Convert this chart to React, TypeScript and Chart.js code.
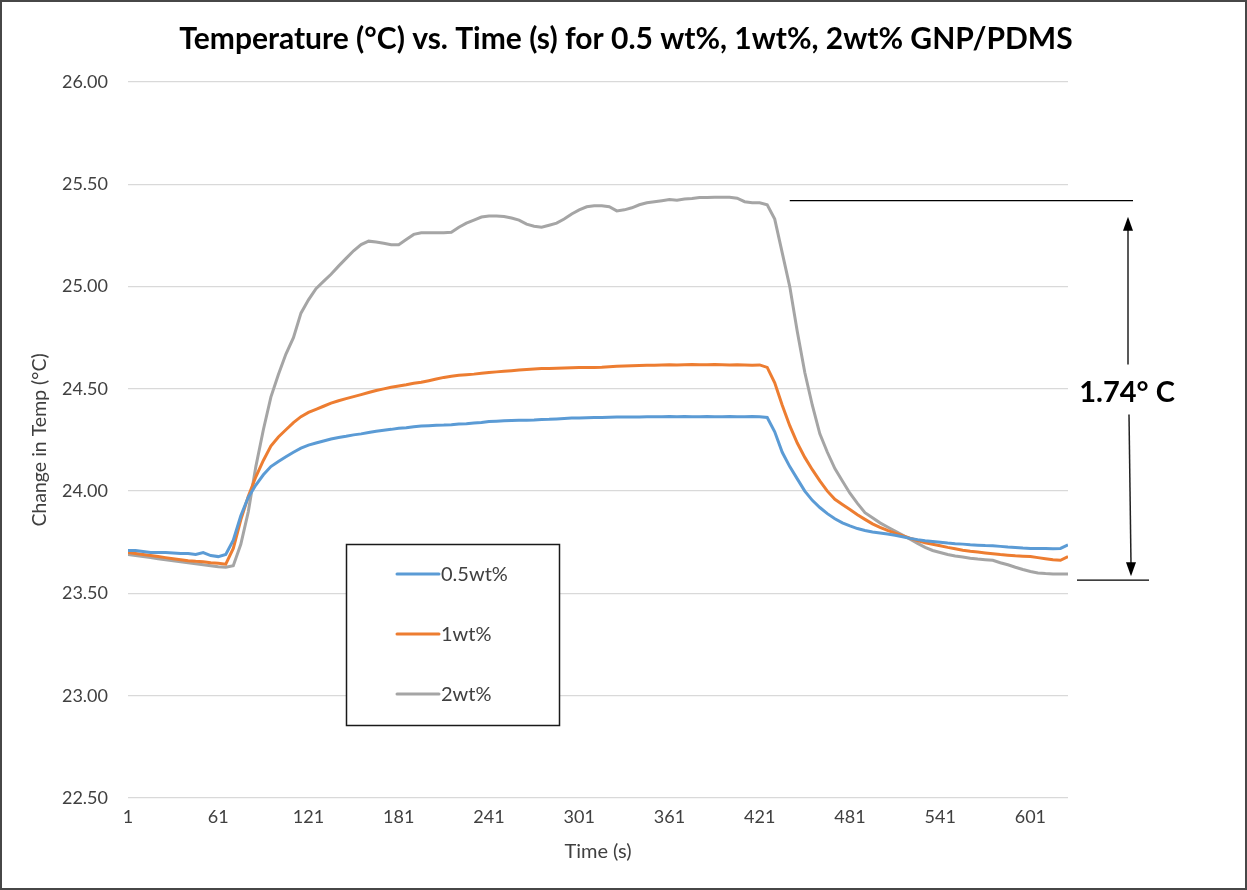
import React, { useEffect, useRef } from "react";
import { Chart, registerables } from "chart.js";

Chart.register(...registerables);

// ---------- DATA ----------
const TITLE = "Temperature (°C) vs. Time (s) for 0.5 wt%, 1wt%, 2wt% GNP/PDMS";
const X_TITLE = "Time (s)";
const Y_TITLE = "Change in Temp (°C)";

const TIMES = [
  1, 6, 11, 16, 21, 26, 31, 36, 41, 46,
  51, 56, 61, 66, 71, 76, 81, 86, 91, 96,
  101, 106, 111, 116, 121, 126, 131, 136, 141, 146,
  151, 156, 161, 166, 171, 176, 181, 186, 191, 196,
  201, 206, 211, 216, 221, 226, 231, 236, 241, 246,
  251, 256, 261, 266, 271, 276, 281, 286, 291, 296,
  301, 306, 311, 316, 321, 326, 331, 336, 341, 346,
  351, 356, 361, 366, 371, 376, 381, 386, 391, 396,
  401, 406, 411, 416, 421, 426, 431, 436, 441, 446,
  451, 456, 461, 466, 471, 476, 481, 486, 491, 496,
  501, 506, 511, 516, 521, 526, 531, 536, 541, 546,
  551, 556, 561, 566, 571, 576, 581, 586, 591, 596,
  601, 606, 611, 616, 621, 626,
];

const TEMP_05WT = [
  23.71, 23.71, 23.705, 23.70, 23.70, 23.70, 23.698, 23.695, 23.695, 23.69,
  23.70, 23.685, 23.68, 23.69, 23.76, 23.88, 23.97, 24.03, 24.08, 24.12,
  24.145, 24.168, 24.19, 24.21, 24.225, 24.235, 24.245, 24.255, 24.262, 24.268,
  24.275, 24.28, 24.287, 24.293, 24.298, 24.302, 24.307, 24.31, 24.315, 24.318,
  24.32, 24.322, 24.323, 24.325, 24.328, 24.33, 24.333, 24.336, 24.34, 24.342,
  24.344, 24.345, 24.346, 24.347, 24.348, 24.35, 24.351, 24.353, 24.355, 24.357,
  24.358, 24.359, 24.36, 24.36, 24.361, 24.362, 24.362, 24.363, 24.363, 24.364,
  24.364, 24.364, 24.365, 24.364, 24.365, 24.364, 24.364, 24.365, 24.364, 24.364,
  24.365, 24.364, 24.364, 24.365, 24.364, 24.36, 24.29, 24.19, 24.12, 24.06,
  24.00, 23.955, 23.92, 23.89, 23.865, 23.845, 23.83, 23.817, 23.808, 23.80,
  23.795, 23.79, 23.784, 23.777, 23.769, 23.763, 23.758, 23.754, 23.75, 23.746,
  23.743, 23.741, 23.738, 23.736, 23.734, 23.733, 23.73, 23.727, 23.725, 23.722,
  23.72, 23.72, 23.72, 23.719, 23.72, 23.737,
];

const TEMP_1WT = [
  23.70, 23.695, 23.69, 23.685, 23.68, 23.675, 23.67, 23.665, 23.66, 23.657,
  23.655, 23.65, 23.647, 23.643, 23.72, 23.86, 23.975, 24.07, 24.15, 24.22,
  24.265, 24.30, 24.335, 24.364, 24.385, 24.40, 24.415, 24.43, 24.442, 24.452,
  24.462, 24.472, 24.482, 24.492, 24.50, 24.508, 24.514, 24.52, 24.527, 24.532,
  24.54, 24.548, 24.556, 24.562, 24.566, 24.569, 24.572, 24.576, 24.58, 24.583,
  24.586, 24.589, 24.592, 24.595, 24.597, 24.599, 24.60, 24.601, 24.602, 24.603,
  24.604, 24.605, 24.605, 24.606, 24.608, 24.61, 24.612, 24.613, 24.614, 24.615,
  24.616, 24.617, 24.618, 24.617, 24.618, 24.619, 24.618, 24.618, 24.619, 24.618,
  24.617, 24.618, 24.617, 24.616, 24.617, 24.605, 24.53, 24.42, 24.32, 24.235,
  24.165, 24.105, 24.05, 24.0, 23.96, 23.935, 23.91, 23.885, 23.862, 23.84,
  23.823, 23.808, 23.795, 23.782, 23.77, 23.759, 23.748, 23.74, 23.733, 23.725,
  23.718, 23.711, 23.706, 23.702, 23.698, 23.694, 23.69, 23.687, 23.684, 23.682,
  23.68, 23.675, 23.67, 23.665, 23.662, 23.68,
];

const TEMP_2WT = [
  23.69, 23.685, 23.68, 23.675, 23.67, 23.665, 23.66, 23.655, 23.65, 23.645,
  23.64, 23.635, 23.63, 23.628, 23.635, 23.74, 23.90, 24.12, 24.30, 24.46,
  24.57, 24.67, 24.75, 24.87, 24.935, 24.99, 25.025, 25.06, 25.10, 25.138,
  25.175, 25.205, 25.222, 25.218, 25.212, 25.205, 25.205, 25.23, 25.255, 25.263,
  25.263, 25.263, 25.263, 25.265, 25.29, 25.31, 25.325, 25.34, 25.345, 25.345,
  25.342, 25.335, 25.325, 25.305, 25.295, 25.29, 25.30, 25.31, 25.33, 25.355,
  25.375, 25.39, 25.395, 25.395, 25.39, 25.37, 25.375, 25.385, 25.40, 25.41,
  25.415, 25.42, 25.425, 25.422, 25.428, 25.43, 25.435, 25.435, 25.437, 25.437,
  25.437, 25.432, 25.415, 25.41, 25.41, 25.40, 25.33, 25.165, 25.0, 24.78,
  24.58, 24.42, 24.28, 24.19, 24.11, 24.05, 23.99, 23.94, 23.895, 23.87,
  23.845, 23.825, 23.805, 23.785, 23.765, 23.745, 23.725, 23.71, 23.70, 23.69,
  23.683, 23.678, 23.672, 23.668, 23.665, 23.662, 23.65, 23.64, 23.628, 23.617,
  23.607, 23.60, 23.597, 23.595, 23.595, 23.595,
];

const SERIES_LABELS = ["0.5wt%", "1wt%", "2wt%"];
const SERIES_COLORS = ["#5B9BD5", "#ED7D31", "#A5A5A5"];

const X_TICKS = [1, 61, 121, 181, 241, 301, 361, 421, 481, 541, 601];
const X_MIN = 1;
const X_MAX = 626;
const Y_MIN = 22.5;
const Y_MAX = 26.0;
const Y_STEP = 0.5;

// delta annotation
const DELTA_TOP = 25.42;
const DELTA_BOTTOM = 23.565;
const DELTA_LINE_START = 441;
const DELTA_LABEL = "1.74° C";

const FONT = "Lato, 'Open Sans', sans-serif";
const TEXT_COLOR = "#404040";

// ---------- PLUGINS ----------
const framePlugin = {
  id: "frame",
  beforeDraw(chart: any) {
    const { ctx, width, height } = chart;
    ctx.save();
    ctx.fillStyle = "#ffffff";
    ctx.fillRect(0, 0, width, height);
    ctx.restore();
  },
  afterDraw(chart: any) {
    const { ctx, width, height } = chart;
    ctx.save();
    ctx.strokeStyle = "#474747";
    ctx.lineWidth = 2;
    ctx.strokeRect(1, 1, width - 2, height - 2);
    // chart title
    ctx.fillStyle = "#000000";
    ctx.font = `bold 30px ${FONT}`;
    ctx.textAlign = "center";
    ctx.textBaseline = "middle";
    ctx.fillText(TITLE, 626, 39);
    ctx.restore();
  },
};

const boxLegendPlugin = {
  id: "boxLegend",
  afterDatasetsDraw(chart: any) {
    const { ctx } = chart;
    const bx = 346.5;
    const by = 544.5;
    const bw = 213;
    const bh = 181;
    ctx.save();
    ctx.fillStyle = "#ffffff";
    ctx.fillRect(bx, by, bw, bh);
    ctx.strokeStyle = "#1a1a1a";
    ctx.lineWidth = 1.5;
    ctx.strokeRect(bx, by, bw, bh);
    chart.data.datasets.forEach((ds: any, i: number) => {
      const rowY = 574 + i * 60;
      ctx.strokeStyle = ds.borderColor;
      ctx.lineWidth = 3;
      ctx.lineCap = "round";
      ctx.beginPath();
      ctx.moveTo(397, rowY);
      ctx.lineTo(439, rowY);
      ctx.stroke();
      ctx.fillStyle = TEXT_COLOR;
      ctx.font = `20px ${FONT}`;
      ctx.textAlign = "left";
      ctx.textBaseline = "middle";
      ctx.fillText(ds.label, 441, rowY + 1);
    });
    ctx.restore();
  },
};

const deltaPlugin = {
  id: "delta",
  afterDatasetsDraw(chart: any) {
    const { ctx, chartArea, scales } = chart;
    const yTop = scales.y.getPixelForValue(DELTA_TOP);
    const yBot = scales.y.getPixelForValue(DELTA_BOTTOM);
    const xStart = scales.x.getPixelForValue(DELTA_LINE_START);
    const r = chartArea.right;
    ctx.save();
    ctx.strokeStyle = "#000000";
    ctx.lineWidth = 1.3;
    ctx.beginPath();
    ctx.moveTo(xStart, yTop);
    ctx.lineTo(r + 65, yTop);
    ctx.moveTo(r + 9, yBot);
    ctx.lineTo(r + 81, yBot);
    ctx.stroke();

    const mid = (yTop + yBot) / 2 + 2;
    const axTop = r + 60;
    const axBot = r + 63;
    ctx.strokeStyle = "#222222";
    ctx.lineWidth = 1.5;
    // upper arrow
    ctx.beginPath();
    ctx.moveTo(axTop, mid - 28);
    ctx.lineTo(axTop, yTop + 28);
    ctx.stroke();
    ctx.fillStyle = "#000000";
    ctx.beginPath();
    ctx.moveTo(axTop, yTop + 16);
    ctx.lineTo(axTop - 5, yTop + 30);
    ctx.lineTo(axTop + 5, yTop + 30);
    ctx.closePath();
    ctx.fill();
    // lower arrow
    ctx.beginPath();
    ctx.moveTo(axTop + 1, mid + 22);
    ctx.lineTo(axBot, yBot - 16);
    ctx.stroke();
    ctx.beginPath();
    ctx.moveTo(axBot, yBot - 4);
    ctx.lineTo(axBot - 5, yBot - 18);
    ctx.lineTo(axBot + 5, yBot - 18);
    ctx.closePath();
    ctx.fill();

    ctx.fillStyle = "#000000";
    ctx.font = `bold 29px ${FONT}`;
    ctx.textAlign = "center";
    ctx.textBaseline = "middle";
    ctx.fillText(DELTA_LABEL, r + 59, mid);
    ctx.restore();
  },
};

export default function App() {
  const canvasRef = useRef<HTMLCanvasElement | null>(null);

  useEffect(() => {
    const canvas = canvasRef.current;
    if (!canvas) return;
    const seriesValues = [TEMP_05WT, TEMP_1WT, TEMP_2WT];
    const chart = new Chart(canvas, {
      type: "line",
      data: {
        datasets: seriesValues.map((vals, i) => ({
          label: SERIES_LABELS[i],
          data: TIMES.map((t, j) => ({ x: t, y: vals[j] })),
          borderColor: SERIES_COLORS[i],
          backgroundColor: SERIES_COLORS[i],
          borderWidth: 3,
          pointRadius: 0,
          tension: 0,
          fill: false,
        })),
      },
      options: {
        animation: false,
        responsive: false,
        devicePixelRatio: 1,
        layout: { padding: { top: 82, left: 0, right: 179, bottom: 0 } },
        plugins: {
          legend: { display: false },
          tooltip: { enabled: false },
          title: { display: false },
        },
        scales: {
          x: {
            type: "linear",
            min: X_MIN,
            max: X_MAX,
            afterBuildTicks: (scale: any) => {
              scale.ticks = X_TICKS.map((v) => ({ value: v }));
            },
            afterFit: (scale: any) => {
              scale.height = 92;
            },
            ticks: {
              autoSkip: false,
              maxRotation: 0,
              color: TEXT_COLOR,
              font: { family: FONT, size: 18 },
              padding: 8,
              callback: (v: any) => String(v),
            },
            grid: { display: false, drawTicks: false },
            border: { display: false },
            title: {
              display: true,
              text: X_TITLE,
              color: TEXT_COLOR,
              font: { family: FONT, size: 20 },
              padding: { top: 0, bottom: 26 },
            },
          },
          y: {
            min: Y_MIN,
            max: Y_MAX,
            afterFit: (scale: any) => {
              scale.width = 128;
            },
            ticks: {
              stepSize: Y_STEP,
              color: TEXT_COLOR,
              font: { family: FONT, size: 18 },
              padding: 20,
              callback: (v: any) => Number(v).toFixed(2),
            },
            grid: { color: "#d9d9d9", lineWidth: 1.3, drawTicks: false },
            border: { display: false },
            title: {
              display: true,
              text: Y_TITLE,
              color: TEXT_COLOR,
              font: { family: FONT, size: 19.5 },
              padding: { top: 28, bottom: 0 },
            },
          },
        },
      },
      plugins: [framePlugin, boxLegendPlugin, deltaPlugin],
    } as any);
    return () => chart.destroy();
  }, []);

  return (
    <div style={{ position: "absolute", left: 0, top: 0, width: 1247, height: 890 }}>
      <canvas ref={canvasRef} width={1247} height={890} style={{ display: "block" }} />
    </div>
  );
}
